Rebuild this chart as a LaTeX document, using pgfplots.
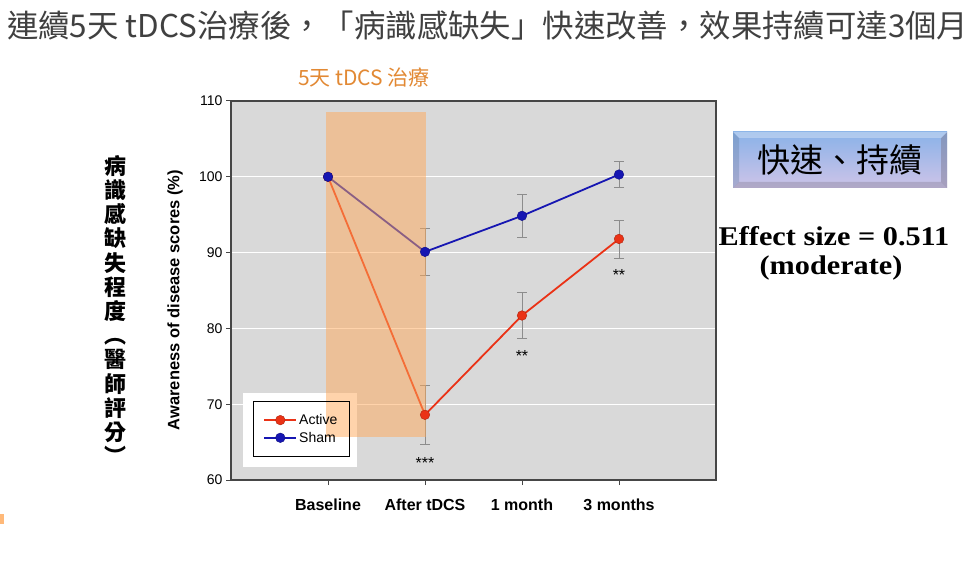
\documentclass[border=0pt]{standalone}
\usepackage{pgfplots}
\pgfplotsset{compat=1.18}
\usepackage{fontspec}
\setmainfont{Liberation Sans}
\newfontfamily\cjk{Noto Sans CJK TC}
\newfontfamily\tms{Liberation Serif}
\definecolor{bggray}{RGB}{217,217,217}
\definecolor{band}{RGB}{255,168,88}
\definecolor{activec}{RGB}{234,50,22}
\definecolor{shamc}{RGB}{22,22,178}
\definecolor{titlec}{RGB}{64,64,64}
\definecolor{orangetxt}{RGB}{226,137,52}
\definecolor{axc}{RGB}{70,70,70}
\definecolor{errc}{RGB}{140,140,140}
\definecolor{boxtop}{RGB}{138,178,232}
\definecolor{boxbot}{RGB}{206,196,232}
\begin{document}
\begin{tikzpicture}[x=1pt,y=1pt]
\useasboundingbox (0,0) rectangle (972,568);
\fill[white] (0,0) rectangle (972,568);
\fill[band!80] (0,44) rectangle (4,54);
\node[anchor=west, font=\cjk\fontsize{31.4}{31.4}\selectfont, text=titlec, inner sep=0] at (7,542) {連續5天 tDCS治療後，「病識感缺失」快速改善，效果持續可達3個月};
\node[font=\cjk\fontsize{21}{21}\selectfont, text=orangetxt, inner sep=0] at (364,490) {5天 tDCS 治療};
\begin{axis}[at={(231pt,88pt)}, anchor=south west, scale only axis,
  width=485pt, height=379pt,
  xmin=-1, xmax=4, ymin=60, ymax=110,
  axis background/.style={fill=bggray},
  axis line style={axc, line width=1.3pt},
  ytick={60,70,...,110}, xtick={0,1,2,3},
  xticklabels={Baseline, After tDCS, 1 month, 3 months},
  xtick pos=bottom, ytick pos=left,
  tick align=outside, major tick length=5pt,
  tick style={axc, line width=1pt},
  ymajorgrids, grid style={white, line width=1.2pt},
  yticklabel style={font=\fontsize{14}{14}\selectfont},
  xticklabel style={font=\bfseries\fontsize{16}{16}\selectfont, yshift=-10pt},
  /pgf/number format/assume math mode=true,
  legend style={at={(rel axis cs:0.0454,0.0607)}, anchor=south west,
    draw=black, fill=none, line width=0.8pt,
    font=\fontsize{14}{14}\selectfont, inner xsep=10pt, inner ysep=11pt,
    row sep=2pt},
  legend cell align=left,
  legend image code/.code={\draw[mark repeat=2, mark phase=2, #1] plot coordinates {(0pt,0pt) (16pt,0pt) (32pt,0pt)};},
]
\fill[white] (axis cs:-0.876,61.72) rectangle (axis cs:0.299,71.48);
% error bars
\addplot[draw=none, mark=none, forget plot, error bars/.cd, y dir=both, y explicit,
  error bar style={errc, line width=0.7pt},
  error mark options={rotate=90, errc, mark size=5pt, line width=0.7pt}]
  coordinates {(1,68.6) +- (0,3.85) (2,81.7) +- (0,3.05) (3,91.8) +- (0,2.5)};
\addplot[draw=none, mark=none, forget plot, error bars/.cd, y dir=both, y explicit,
  error bar style={errc, line width=0.7pt},
  error mark options={rotate=90, errc, mark size=5pt, line width=0.7pt}]
  coordinates {(1,90.1) +- (0,3.1) (2,94.85) +- (0,2.85) (3,100.3) +- (0,1.75)};
\addplot[activec, line width=1.8pt, mark=*, mark size=4.8pt,
  mark options={fill=activec, draw=activec!75!black, line width=0.4pt}]
  coordinates {(0,100) (1,68.6) (2,81.7) (3,91.8)};
\addlegendentry{Active}
\addplot[shamc, line width=1.8pt, mark=*, mark size=4.8pt,
  mark options={fill=shamc, draw=shamc!75!black, line width=0.4pt}]
  coordinates {(0,100) (1,90.1) (2,94.85) (3,100.3)};
\addlegendentry{Sham}
\addplot[fill=band, fill opacity=0.5, draw=none, forget plot]
  coordinates {(-0.02,65.67) (1.01,65.67) (1.01,108.55) (-0.02,108.55)} -- cycle;
\node[font=\fontsize{16}{16}\selectfont] at (axis cs:1,62.3) {***};
\node[font=\fontsize{16}{16}\selectfont] at (axis cs:2,76.3) {**};
\node[font=\fontsize{16}{16}\selectfont] at (axis cs:3,87.1) {**};
\end{axis}
\node[rotate=90, font=\bfseries\fontsize{16.5}{16.5}\selectfont] at (175,268) {Awareness of disease scores (\%)};
\node[font=\cjk\bfseries\fontsize{22}{24.2}\selectfont, align=center, inner sep=0] at (115,258) {病\\識\\感\\缺\\失\\程\\度\\︵\\醫\\師\\評\\分\\︶};
\shade[top color=boxtop, bottom color=boxbot] (733,380) rectangle (947,436);
\fill[boxtop!70!black, opacity=0.35] (733,380) -- (739,386) -- (739,430) -- (733,436) -- cycle;
\fill[boxbot!60!black, opacity=0.45] (947,380) -- (941,386) -- (941,430) -- (947,436) -- cycle;
\fill[boxbot!60!black, opacity=0.35] (733,380) -- (739,386) -- (941,386) -- (947,380) -- cycle;
\fill[white, opacity=0.3] (733,436) -- (739,430) -- (941,430) -- (947,436) -- cycle;
\node[font=\cjk\fontsize{33}{33}\selectfont] at (840,408) {快速、持續};
\node[font=\tms\bfseries\fontsize{27}{27}\selectfont, xscale=1.12] at (834,332) {Effect size = 0.511};
\node[font=\tms\bfseries\fontsize{27}{27}\selectfont, xscale=1.12] at (831,300) {(moderate)};
\end{tikzpicture}
\end{document}
